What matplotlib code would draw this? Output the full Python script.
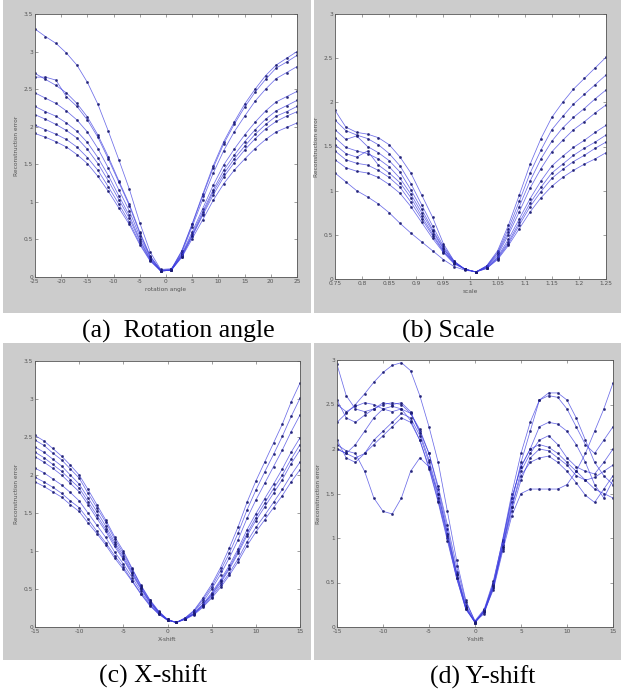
import numpy as np
import matplotlib
matplotlib.use("Agg")
import matplotlib.pyplot as plt
from matplotlib.patches import Rectangle

# ---- data ----
# (a) rotation angle
rot_x = [-25, -23, -21, -19, -17, -15, -13, -11, -9, -7, -5, -3, -1,
         1, 3, 5, 7, 9, 11, 13, 15, 17, 19, 21, 23, 25]
rot_err = [
    [3.30, 3.20, 3.11, 2.98, 2.82, 2.59, 2.30, 1.94, 1.56, 1.17, 0.72, 0.33, 0.10,
     0.11, 0.30, 0.60, 0.91, 1.22, 1.49, 1.70, 1.89, 2.06, 2.21, 2.33, 2.40, 2.47],
    [2.71, 2.63, 2.55, 2.45, 2.31, 2.13, 1.89, 1.60, 1.28, 0.97, 0.60, 0.28, 0.09,
     0.10, 0.35, 0.71, 1.10, 1.48, 1.80, 2.06, 2.30, 2.50, 2.68, 2.82, 2.91, 3.00],
    [2.66, 2.66, 2.62, 2.40, 2.27, 2.09, 1.86, 1.57, 1.26, 0.95, 0.58, 0.27, 0.09,
     0.10, 0.34, 0.70, 1.08, 1.45, 1.77, 2.03, 2.26, 2.46, 2.63, 2.78, 2.86, 2.95],
    [2.45, 2.38, 2.31, 2.21, 2.09, 1.93, 1.71, 1.45, 1.16, 0.88, 0.54, 0.26, 0.08,
     0.09, 0.32, 0.67, 1.03, 1.38, 1.68, 1.93, 2.14, 2.34, 2.50, 2.64, 2.72, 2.80],
    [2.27, 2.20, 2.14, 2.05, 1.94, 1.79, 1.59, 1.35, 1.08, 0.82, 0.50, 0.24, 0.08,
     0.09, 0.28, 0.55, 0.84, 1.13, 1.37, 1.57, 1.74, 1.90, 2.03, 2.14, 2.20, 2.27],
    [2.16, 2.10, 2.03, 1.95, 1.85, 1.70, 1.51, 1.28, 1.03, 0.78, 0.48, 0.23, 0.08,
     0.09, 0.29, 0.57, 0.87, 1.16, 1.42, 1.62, 1.80, 1.96, 2.10, 2.21, 2.28, 2.35],
    [2.02, 1.96, 1.90, 1.83, 1.73, 1.59, 1.42, 1.20, 0.97, 0.73, 0.45, 0.22, 0.08,
     0.09, 0.27, 0.54, 0.82, 1.09, 1.33, 1.52, 1.69, 1.84, 1.97, 2.07, 2.14, 2.20],
    [1.91, 1.86, 1.80, 1.73, 1.63, 1.51, 1.34, 1.14, 0.92, 0.70, 0.43, 0.21, 0.08,
     0.09, 0.26, 0.51, 0.76, 1.02, 1.24, 1.42, 1.57, 1.71, 1.83, 1.93, 1.99, 2.05],
]

# (b) scale
scale_x = [0.75, 0.77, 0.79, 0.81, 0.83, 0.85, 0.87, 0.89, 0.91, 0.93, 0.95, 0.97, 0.99,
           1.01, 1.03, 1.05, 1.07, 1.09, 1.11, 1.13, 1.15, 1.17, 1.19, 1.21, 1.23, 1.25]
scale_err = [
    [1.91, 1.72, 1.66, 1.64, 1.60, 1.52, 1.38, 1.20, 0.95, 0.70, 0.40, 0.20, 0.11,
     0.08, 0.15, 0.32, 0.61, 0.95, 1.30, 1.59, 1.83, 2.00, 2.15, 2.27, 2.39, 2.51],
    [1.80, 1.68, 1.63, 1.59, 1.52, 1.42, 1.28, 1.08, 0.84, 0.60, 0.37, 0.20, 0.11,
     0.08, 0.15, 0.30, 0.57, 0.88, 1.20, 1.46, 1.69, 1.84, 1.98, 2.09, 2.20, 2.31],
    [1.69, 1.58, 1.62, 1.50, 1.43, 1.34, 1.21, 1.01, 0.79, 0.56, 0.35, 0.19, 0.11,
     0.08, 0.14, 0.29, 0.53, 0.82, 1.11, 1.36, 1.56, 1.71, 1.83, 1.93, 2.04, 2.14],
    [1.60, 1.49, 1.45, 1.42, 1.36, 1.27, 1.14, 0.96, 0.75, 0.54, 0.34, 0.19, 0.11,
     0.08, 0.14, 0.27, 0.50, 0.76, 1.03, 1.25, 1.44, 1.57, 1.69, 1.78, 1.88, 1.97],
    [1.52, 1.42, 1.38, 1.45, 1.29, 1.20, 1.09, 0.92, 0.71, 0.51, 0.32, 0.18, 0.11,
     0.08, 0.13, 0.25, 0.45, 0.68, 0.91, 1.11, 1.28, 1.39, 1.49, 1.57, 1.66, 1.74],
    [1.45, 1.35, 1.31, 1.29, 1.23, 1.15, 1.04, 0.87, 0.68, 0.49, 0.31, 0.18, 0.11,
     0.08, 0.13, 0.24, 0.42, 0.64, 0.86, 1.04, 1.20, 1.30, 1.40, 1.48, 1.55, 1.63],
    [1.35, 1.26, 1.22, 1.20, 1.15, 1.07, 0.97, 0.82, 0.64, 0.46, 0.30, 0.17, 0.11,
     0.08, 0.12, 0.22, 0.38, 0.57, 0.76, 0.92, 1.05, 1.15, 1.23, 1.30, 1.36, 1.43],
    [1.20, 1.10, 1.00, 0.93, 0.85, 0.75, 0.63, 0.52, 0.42, 0.32, 0.22, 0.14, 0.10,
     0.08, 0.12, 0.23, 0.40, 0.61, 0.82, 0.99, 1.14, 1.24, 1.33, 1.40, 1.48, 1.55],
]

# (c) x-shift and (d) y-shift share the same grid
shift_x = list(range(-15, 16))
xshift_err = [
    [2.52, 2.45, 2.35, 2.25, 2.13, 2.00, 1.81, 1.61, 1.41, 1.19, 1.00, 0.77, 0.55, 0.36, 0.21, 0.10,
     0.06, 0.12, 0.22, 0.38, 0.56, 0.78, 1.04, 1.32, 1.64, 1.92, 2.17, 2.42, 2.67, 2.96, 3.21],
    [2.46, 2.39, 2.29, 2.20, 2.08, 1.96, 1.76, 1.57, 1.38, 1.16, 0.97, 0.76, 0.54, 0.35, 0.20, 0.10,
     0.06, 0.12, 0.21, 0.36, 0.53, 0.74, 0.97, 1.24, 1.54, 1.80, 2.04, 2.27, 2.51, 2.77, 3.01],
    [2.37, 2.30, 2.21, 2.12, 2.00, 1.88, 1.70, 1.52, 1.33, 1.12, 0.94, 0.73, 0.52, 0.34, 0.20, 0.09,
     0.06, 0.11, 0.20, 0.33, 0.50, 0.69, 0.91, 1.15, 1.43, 1.67, 1.89, 2.11, 2.33, 2.57, 2.79],
    [2.24, 2.17, 2.09, 2.00, 1.89, 1.78, 1.61, 1.43, 1.26, 1.06, 0.89, 0.69, 0.50, 0.32, 0.19, 0.09,
     0.06, 0.11, 0.18, 0.30, 0.45, 0.62, 0.81, 1.03, 1.28, 1.49, 1.69, 1.88, 2.08, 2.30, 2.49],
    [2.09, 2.03, 1.95, 1.87, 1.77, 1.66, 1.50, 1.34, 1.18, 0.99, 0.83, 0.65, 0.47, 0.30, 0.18, 0.09,
     0.06, 0.11, 0.17, 0.29, 0.42, 0.58, 0.76, 0.97, 1.20, 1.40, 1.58, 1.76, 1.94, 2.15, 2.33],
    [1.97, 1.91, 1.84, 1.76, 1.66, 1.57, 1.42, 1.26, 1.11, 0.94, 0.79, 0.61, 0.44, 0.29, 0.17, 0.09,
     0.06, 0.10, 0.17, 0.27, 0.40, 0.55, 0.71, 0.90, 1.12, 1.31, 1.47, 1.64, 1.81, 2.00, 2.17],
    [1.91, 1.85, 1.78, 1.71, 1.61, 1.52, 1.37, 1.23, 1.08, 0.91, 0.76, 0.60, 0.43, 0.28, 0.17, 0.09,
     0.06, 0.10, 0.16, 0.26, 0.38, 0.52, 0.68, 0.86, 1.07, 1.25, 1.41, 1.57, 1.73, 1.91, 2.07],
    [2.30, 2.23, 2.14, 2.05, 1.94, 1.83, 1.65, 1.47, 1.29, 1.09, 0.91, 0.71, 0.51, 0.33, 0.19, 0.10,
     0.06, 0.11, 0.18, 0.29, 0.43, 0.60, 0.78, 1.00, 1.23, 1.44, 1.63, 1.82, 2.00, 2.21, 2.40],
]
yshift_err = [
    [2.30, 2.40, 2.50, 2.62, 2.75, 2.86, 2.94, 2.97, 2.88, 2.60, 2.25, 1.85, 1.30, 0.75, 0.30, 0.06,
     0.15, 0.45, 0.95, 1.45, 1.80, 2.00, 2.05, 2.02, 1.95, 1.85, 1.75, 1.65, 1.55, 1.50, 1.45],
    [2.95, 2.60, 2.45, 2.42, 2.45, 2.50, 2.52, 2.50, 2.40, 2.20, 1.95, 1.55, 1.10, 0.62, 0.25, 0.05,
     0.18, 0.50, 0.98, 1.50, 1.95, 2.30, 2.55, 2.63, 2.63, 2.55, 2.35, 2.10, 1.85, 1.70, 1.60],
    [2.05, 1.98, 1.95, 1.75, 1.45, 1.30, 1.27, 1.45, 1.75, 1.90, 1.80, 1.50, 1.05, 0.60, 0.22, 0.05,
     0.17, 0.42, 0.85, 1.25, 1.50, 1.55, 1.55, 1.55, 1.55, 1.60, 1.75, 1.95, 2.20, 2.45, 2.74],
    [2.50, 2.42, 2.48, 2.52, 2.50, 2.45, 2.42, 2.45, 2.40, 2.22, 1.95, 1.58, 1.15, 0.68, 0.28, 0.07,
     0.20, 0.52, 0.97, 1.45, 1.80, 2.00, 2.25, 2.30, 2.28, 2.20, 2.05, 1.85, 1.60, 1.45, 1.65],
    [2.55, 2.35, 2.30, 2.38, 2.45, 2.52, 2.50, 2.52, 2.42, 2.18, 1.88, 1.50, 1.05, 0.60, 0.23, 0.06,
     0.19, 0.48, 0.92, 1.40, 1.85, 2.20, 2.55, 2.60, 2.58, 2.45, 2.25, 2.05, 1.95, 2.10, 2.25],
    [2.00, 1.95, 1.90, 1.95, 2.05, 2.15, 2.25, 2.35, 2.30, 2.10, 1.80, 1.42, 1.00, 0.55, 0.20, 0.05,
     0.17, 0.44, 0.88, 1.30, 1.65, 1.90, 2.00, 1.98, 1.90, 1.82, 1.70, 1.65, 1.68, 1.75, 1.82],
    [2.10, 1.90, 1.85, 1.95, 2.10, 2.20, 2.30, 2.40, 2.35, 2.15, 1.85, 1.45, 1.02, 0.58, 0.21, 0.05,
     0.18, 0.47, 0.90, 1.35, 1.75, 1.95, 2.10, 2.15, 2.05, 1.90, 1.80, 1.75, 1.72, 1.85, 2.00],
    [2.00, 1.95, 2.05, 2.20, 2.35, 2.45, 2.48, 2.45, 2.32, 2.10, 1.78, 1.40, 0.97, 0.55, 0.20, 0.06,
     0.18, 0.46, 0.90, 1.35, 1.70, 1.85, 1.90, 1.92, 1.85, 1.75, 1.62, 1.48, 1.40, 1.55, 1.70],
]

# tick labels, MATLAB style
rot_xticks = [-25, -20, -15, -10, -5, 0, 5, 10, 15, 20, 25]
scale_xticks = [0.75, 0.8, 0.85, 0.9, 0.95, 1, 1.05, 1.1, 1.15, 1.2, 1.25]
shift_xticks = [-15, -10, -5, 0, 5, 10, 15]
yticks_35 = [0, 0.5, 1, 1.5, 2, 2.5, 3, 3.5]
yticks_3 = [0, 0.5, 1, 1.5, 2, 2.5, 3]

captions = ["(a)  Rotation angle", "(b) Scale", "(c) X-shift", "(d) Y-shift"]
xlabels = ["rotation angle", "scale", "X-shift", "Y-shift"]

W, H = 621, 696
LINE_COL = "#3c3ce0"
GRAY = "#cccccc"


def fmt(v):
    # matlab prints 1 not 1.0
    return "{:g}".format(v)


def panel(fig, box_px, x, ys, xticks, yticks, xlabel):
    """box_px = (left, top, right, bottom) of the axes in pixels"""
    l, t, r, b = box_px
    ax = fig.add_axes([l / W, 1 - b / H, (r - l) / W, (b - t) / H])
    ax.set_zorder(2)
    for y in ys:
        ax.plot(x, y, color=LINE_COL, lw=0.55, alpha=0.75,
                marker=".", ms=2.2, mec="#1a1a70", mfc="#1a1a70")
    ax.set_xlim(xticks[0], xticks[-1])
    ax.set_ylim(yticks[0], yticks[-1])
    ax.set_xticks(xticks)
    ax.set_xticklabels([fmt(v) for v in xticks])
    ax.set_yticks(yticks)
    ax.set_yticklabels([fmt(v) for v in yticks])
    ax.tick_params(direction="in", length=2.5, width=0.4, labelsize=4.2,
                   colors="#555555", top=True, right=True, pad=1.5)
    for s in ax.spines.values():
        s.set_linewidth(0.6)
        s.set_color("#555555")
    ax.set_xlabel(xlabel, fontsize=4.2, color="#555555", labelpad=2)
    ax.set_ylabel("Reconstruction error", fontsize=4.2, color="#555555", labelpad=3)
    ax.set_facecolor("white")
    return ax


fig = plt.figure(figsize=(W / 100, H / 100), dpi=100)
fig.patch.set_facecolor("white")

# gray matlab figure backgrounds (left, top, right, bottom in px)
for gl, gt, gr, gb in [(3, 0, 311, 313), (314, 0, 621, 313), (3, 343, 311, 660), (314, 343, 621, 660)]:
    fig.patches.append(Rectangle((gl / W, 1 - gb / H), (gr - gl) / W, (gb - gt) / H,
                                 transform=fig.transFigure, facecolor=GRAY,
                                 edgecolor="none", zorder=-5))

panel(fig, (35, 14, 297, 277), rot_x, rot_err, rot_xticks, yticks_35, xlabels[0])
panel(fig, (335, 14, 606, 279), scale_x, scale_err, scale_xticks, yticks_3, xlabels[1])
panel(fig, (35, 361, 300, 627), shift_x, xshift_err, shift_xticks, yticks_35, xlabels[2])
panel(fig, (337, 360, 613, 627), shift_x, yshift_err, shift_xticks, yticks_3, xlabels[3])

cap_pos = [(178, 331), (448, 331), (153, 676), (483, 677)]
for (cx, cy), txt in zip(cap_pos, captions):
    fig.text(cx / W, 1 - cy / H, txt, ha="center", va="center",
             fontsize=18.5, family="Liberation Serif", color="black")

fig.savefig("out.png", dpi=100)
